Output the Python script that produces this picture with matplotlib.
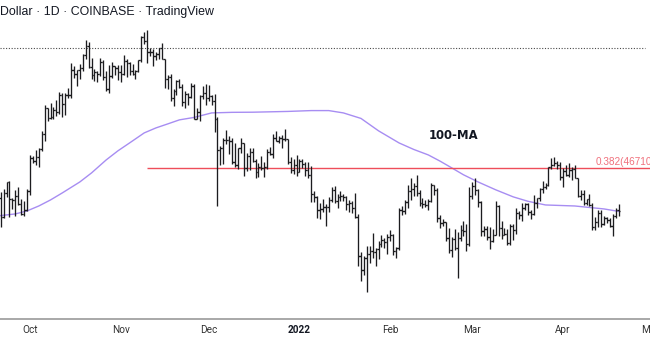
import matplotlib
matplotlib.use("Agg")
import matplotlib.pyplot as plt
import matplotlib.dates as mdates
import matplotlib.transforms as mtransforms
import pandas as pd

# ---------------- data (BTC/USD daily, Coinbase) ----------------
start_date = "2021-09-20"

opens = [
    # Sep 20-30
    47250, 42960, 40700, 43570, 44890, 42830, 42700, 43200, 42180, 41030, 41520,
    # Oct
    43790, 48140, 47650, 48230, 49250, 51500, 55340, 53800, 53960, 54970, 54680, 57480, 56020, 57380, 57350, 61670,
    60880, 61530, 62030, 64270, 66000, 62200, 60690, 61300, 60850, 63080, 60330, 58450, 60600, 62250, 61880,
    # Nov
    61320, 61000, 63220, 62930, 61400, 61000, 61500, 63300, 67550, 66950, 64880, 64800, 64150, 64400, 65500, 63600,
    60050, 60350, 56900, 58100, 59750, 58700, 56300, 57550, 57150, 58950, 53700, 54700, 57270, 57800,
    # Dec
    56950, 57200, 56500, 53600, 49200, 49400, 50550, 50600, 50500, 47600, 47140, 49380, 50100, 46700, 48380, 48900,
    47650, 46200, 46850, 46700, 46900, 48930, 48600, 50800, 50400, 50800, 50700, 50700, 47500, 46450, 47120,
    # Jan
    46200, 47700, 47300, 46450, 45830, 43430, 43100, 41550, 41680, 41870, 41830, 42750, 43920, 42600, 43100, 43180,
    43110, 42250, 42380, 41700, 40700, 36470, 35070, 36280, 36690, 36980, 36840, 37170, 37730, 38190, 37920,
    # Feb
    38480, 38740, 36950, 37330, 41570, 41410, 42410, 43860, 44080, 44390, 43550, 42380, 42220, 42070, 42560, 44580,
    43960, 40560, 40000, 40090, 38400, 37050, 38270, 37280, 38360, 39250, 39130, 37720,
    # Mar
    43200, 44440, 43920, 42460, 39150, 39400, 38420, 37990, 38740, 41980, 39440, 38730, 38810, 37780, 39670, 39280,
    41120, 40930, 41770, 42250, 41260, 41000, 42370, 42900, 44010, 44350, 44540, 46820, 47130, 47450, 47070,
    # Apr 1-20
    45540, 46280, 45810, 46410, 46620, 45500, 43170, 43440, 42290, 42780, 42160, 39530, 40090, 41150, 39940, 40550,
    40400, 39700, 40800, 41500,
]

highs = [
    47330, 43640, 44000, 44980, 45100, 42970, 43930, 44340, 42780, 42600, 44100,
    48500, 48360, 49230, 49500, 51900, 55750, 55340, 56100, 55480, 56560, 57830, 57680, 57720, 58560, 62900, 62340,
    61700, 62700, 64500, 67000, 66640, 63700, 61750, 61500, 63700, 63300, 61500, 62500, 62950, 62360, 62450,
    62430, 64300, 63550, 63100, 62600, 61550, 63300, 67800, 68530, 69000, 65600, 65450, 64900, 65500, 66400, 63600,
    60800, 60950, 58350, 59850, 60000, 59300, 58000, 57800, 59400, 59170, 55300, 57400, 58850, 59200,
    59050, 57400, 57600, 53900, 49700, 50900, 51950, 51200, 50800, 50100, 49500, 50800, 50200, 48700, 49500, 49400,
    47990, 47350, 48300, 47550, 49350, 49550, 51400, 51850, 51200, 51300, 52100, 50700, 48150, 47900, 48550,
    47900, 47950, 47550, 47500, 47050, 43750, 43150, 42300, 42800, 42250, 43100, 44350, 44450, 43450, 43800, 43480,
    43200, 42700, 42600, 43500, 41100, 36850, 36500, 37550, 37550, 38950, 37250, 38000, 38700, 38350, 38750,
    39250, 38850, 37400, 41750, 41950, 42650, 44500, 45500, 44800, 45850, 43950, 43000, 42750, 42850, 44750, 44600,
    44200, 40950, 40500, 40150, 39500, 38450, 39300, 39000, 39750, 40300, 39900, 44250,
    44950, 45400, 44100, 42550, 39650, 39700, 39550, 39400, 42600, 42050, 40250, 39500, 39300, 39900, 39900, 41700,
    41450, 42350, 42400, 42300, 41550, 43350, 42900, 44200, 45100, 44800, 46900, 48100, 48200, 47700, 47600,
    46700, 47200, 47450, 46850, 47200, 45500, 43900, 43950, 42800, 43450, 42400, 40700, 41550, 41550, 40850, 40700,
    40600, 41100, 41750, 42200,
]

lows = [
    42500, 39600, 40570, 43080, 40700, 41650, 40800, 42100, 40900, 40780, 41420,
    43300, 47430, 47100, 46900, 49060, 50400, 53360, 53650, 53700, 54120, 54470, 53900, 54250, 56860, 56900, 60200,
    58970, 60150, 61400, 63500, 62000, 60000, 59700, 59500, 60650, 59820, 58000, 57820, 60200, 60700, 59950,
    59500, 60700, 60400, 60700, 60800, 60100, 61350, 63100, 66300, 62800, 64100, 62300, 63400, 63600, 63500, 58600,
    58400, 56500, 55650, 57400, 58500, 55600, 55300, 55900, 57000, 53600, 53600, 53300, 56700, 55900,
    56500, 55800, 51700, 42000, 47100, 47300, 50050, 48600, 47300, 46900, 46600, 48700, 45700, 46300, 46500, 47550,
    45500, 45600, 46450, 45550, 46650, 48450, 48050, 50450, 50200, 49450, 50500, 47300, 46100, 46000, 45700,
    46200, 46700, 45700, 45500, 42500, 42450, 40600, 40500, 41250, 39650, 41300, 42450, 42350, 41750, 42600, 42600,
    41550, 41300, 41150, 40600, 35500, 34000, 34600, 32950, 35750, 36250, 35500, 36200, 37400, 37350, 36650,
    38000, 36600, 36250, 37050, 40950, 41100, 41700, 42700, 43150, 43200, 42000, 41800, 41850, 41550, 42450, 43300,
    40100, 39450, 39650, 38000, 36800, 36350, 37050, 34300, 38000, 38600, 37000, 37500,
    42850, 43350, 41850, 38600, 38600, 38100, 37200, 37900, 38650, 38550, 38250, 38700, 37600, 37600, 38150, 38850,
    40500, 40200, 41500, 40950, 40500, 40900, 41700, 42600, 43600, 44100, 44400, 46650, 46950, 46600, 45200,
    44250, 45650, 45550, 45150, 45380, 43100, 42750, 42150, 42150, 42000, 39200, 39250, 39600, 39550, 39780, 40000,
    39550, 38550, 40550, 40850,
]

closes = [
    42960, 40700, 43570, 44890, 42830, 42700, 43200, 42180, 41030, 41520, 43790,
    48140, 47650, 48230, 49250, 51500, 55340, 53800, 53960, 54970, 54680, 57480, 56020, 57380, 57350, 61670, 60880,
    61530, 62030, 64270, 66000, 62200, 60690, 61300, 60850, 63080, 60330, 58450, 60600, 62250, 61880, 61320,
    61000, 63220, 62930, 61400, 61000, 61500, 63300, 67550, 66950, 64880, 64800, 64150, 64400, 65500, 63600, 60050,
    60350, 56900, 58100, 59750, 58700, 56300, 57550, 57150, 58950, 53700, 54700, 57270, 57800, 56950,
    57200, 56500, 53600, 49200, 49400, 50550, 50600, 50500, 47600, 47140, 49380, 50100, 46700, 48380, 48900, 47650,
    46200, 46850, 46700, 46900, 48930, 48600, 50800, 50400, 50800, 50700, 50700, 47500, 46450, 47120, 46200,
    47700, 47300, 46450, 45830, 43430, 43100, 41550, 41680, 41870, 41830, 42750, 43920, 42600, 43100, 43180, 43110,
    42250, 42380, 41700, 40700, 36470, 35070, 36280, 36690, 36980, 36840, 37170, 37730, 38190, 37920, 38480,
    38740, 36950, 37330, 41570, 41410, 42410, 43860, 44080, 44390, 43550, 42380, 42220, 42070, 42560, 44580, 43960,
    40560, 40000, 40090, 38400, 37050, 38270, 37280, 38360, 39250, 39130, 37720, 43200,
    44440, 43920, 42460, 39150, 39400, 38420, 37990, 38740, 41980, 39440, 38730, 38810, 37780, 39670, 39280, 41120,
    40930, 41770, 42250, 41260, 41000, 42370, 42900, 44010, 44350, 44540, 46820, 47130, 47450, 47070, 45540,
    46280, 45810, 46410, 46620, 45500, 43170, 43440, 42290, 42780, 42160, 39530, 40090, 41150, 39940, 40550, 40400,
    39700, 40800, 41500, 41370,
]

# 100-day moving average
ma_dates = ["2021-09-20", "2021-09-26", "2021-09-30", "2021-10-04", "2021-10-08", "2021-10-12",
            "2021-10-18", "2021-10-22", "2021-10-27", "2021-10-31", "2021-11-04", "2021-11-09",
            "2021-11-13", "2021-11-17", "2021-11-21", "2021-11-26", "2021-12-02", "2021-12-09",
            "2021-12-16", "2021-12-28", "2022-01-05", "2022-01-11", "2022-01-16", "2022-01-22",
            "2022-01-28", "2022-02-04", "2022-02-09", "2022-02-14", "2022-02-18", "2022-02-22",
            "2022-02-26", "2022-03-03", "2022-03-09", "2022-03-15", "2022-03-20", "2022-03-26",
            "2022-04-05", "2022-04-15", "2022-04-20"]
ma_values = [40830, 41060, 41410, 41990, 42710, 43560,
             44930, 46090, 47810, 49050, 50160, 51600,
             52330, 52920, 53530, 53900, 54590, 54680,
             54700, 54820, 54950, 54950, 54590, 53750,
             51900, 50160, 49250, 48490, 47650, 46750,
             45850, 44930, 43950, 43080, 42550, 42110,
             41990, 41640, 41350]

fib_level = 46710
fib_start = "2021-11-10"
fib_label = "0.382(46710.00)"
prior_high_level = 65570
ma_label = "100-MA"
ma_label_date = "2022-02-14"
ma_label_price = 51160
title_text = "Dollar \u00b7 1D \u00b7 COINBASE \u00b7 TradingView"
month_dates = ["2021-10-01", "2021-11-01", "2021-12-01", "2022-01-01", "2022-02-01",
               "2022-03-01", "2022-04-01", "2022-05-01"]
month_labels = ["Oct", "Nov", "Dec", "2022", "Feb", "Mar", "Apr", "May"]

# ---------------- figure ----------------
W, H = 650, 340
fig = plt.figure(figsize=(W / 100, H / 100), dpi=100)
fig.patch.set_facecolor("white")
ax = fig.add_axes([0, 21 / H, 1, 319 / H])
ax.set_yscale("log")

dates = pd.date_range(start_date, periods=len(closes), freq="D")
x = mdates.date2num(dates)

bar_color = "#1c1c1f"
bar_lw = 0.95
tick_half = 0.55
ax.vlines(x, lows, highs, color=bar_color, lw=bar_lw, zorder=3)
ax.hlines(opens, x - tick_half, x, color=bar_color, lw=bar_lw, zorder=3)
ax.hlines(closes, x, x + tick_half, color=bar_color, lw=bar_lw, zorder=3)

# moving average
ax.plot(mdates.date2num(pd.to_datetime(ma_dates)), ma_values, color="#a78df2", lw=1.0,
        zorder=2, solid_joinstyle="round")

# limits
px_per_day = 2.929
x_left = mdates.date2num(pd.Timestamp("2021-10-01")) - 30 / px_per_day
x_right = x_left + W / px_per_day
ax.set_xlim(x_left, x_right)
ax.set_ylim(30530, 75060)

# fib level
ax.hlines(fib_level, mdates.date2num(pd.Timestamp(fib_start)), x_right, color="#ee4d5a", lw=1.0, zorder=2)
ax.text(mdates.date2num(pd.Timestamp("2022-04-12")), fib_level * 1.004, fib_label,
        color="#f0707c", fontsize=7.2, family="Liberation Sans", va="bottom", ha="left", clip_on=False)

# prior high dotted line
ax.axhline(prior_high_level, xmin=0, xmax=645 / W, color="#4a4a4a", lw=0.8, ls=(0, (1, 1.5)), zorder=1)

# 100-MA label
ax.text(mdates.date2num(pd.Timestamp(ma_label_date)), ma_label_price, ma_label,
        fontsize=8.4, fontweight="bold", family="DejaVu Sans", color="#131722", va="center", ha="left")

# axes styling
for side in ["top", "left", "right"]:
    ax.spines[side].set_visible(False)
ax.spines["bottom"].set_color("#9a9a9a")
ax.spines["bottom"].set_linewidth(1.2)
ax.set_yticks([])
ax.yaxis.set_minor_locator(matplotlib.ticker.NullLocator())
ax.set_xticks([])
ax.xaxis.set_minor_locator(matplotlib.ticker.NullLocator())

# month labels
trans = mtransforms.blended_transform_factory(ax.transData, fig.transFigure)
for d, lab in zip(month_dates, month_labels):
    ax.text(mdates.date2num(pd.Timestamp(d)), 1 - 330 / H, lab, transform=trans,
            ha="center", va="center", fontsize=7.2, family="Roboto",
            fontweight="bold" if lab == "2022" else "normal",
            color="#131722" if lab == "2022" else "#333333", clip_on=False)

# title
fig.text(0.0, 1 - 11.5 / H, title_text, fontsize=8.9, family="Liberation Sans",
         color="#131722", ha="left", va="center")

fig.savefig("out.png", dpi=100, facecolor="white")
